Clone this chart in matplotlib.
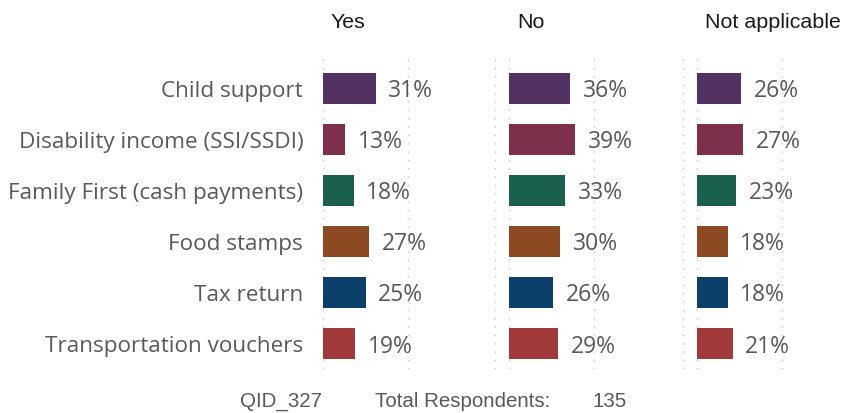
import matplotlib.pyplot as plt

# survey answers, percent of respondents
categories = ['Child support', 'Disability income (SSI/SSDI)', 'Family First (cash payments)',
              'Food stamps', 'Tax return', 'Transportation vouchers']
panels = ['Yes', 'No', 'Not applicable']
yes_pct = [31, 13, 18, 27, 25, 19]
no_pct = [36, 39, 33, 30, 26, 29]
na_pct = [26, 27, 23, 18, 18, 21]
bar_colors = ['#513263', '#7E2F4B', '#1B604D', '#8D4A22', '#0C3F69', '#A0393A']

qid = 'QID_327'
total_respondents = 135

W, H = 857, 414
fig = plt.figure(figsize=(W / 100, H / 100), dpi=100)

label_font = 'Open Sans'
gray = '#595959'
px_per_pct = 1.7
zero_px = [323, 509, 697]       # where 0% sits in each panel
top_px, bottom_px = 57, 370

for i, (name, vals) in enumerate(zip(panels, [yes_pct, no_pct, na_pct])):
    left = zero_px[i] - 15
    width = 170
    ax = fig.add_axes([left / W, 1 - bottom_px / H, width / W, (bottom_px - top_px) / H])
    ax.set_xlim(-15 / px_per_pct, 155 / px_per_pct)
    ax.set_ylim(5.5, -0.63)
    y = range(len(categories))
    ax.barh(y, vals, height=0.61, color=bar_colors, zorder=3)

    # dotted gridlines at 0% and 50%, plus panel edge
    grid_x = [0, 50] if i == 0 else [-15 / px_per_pct + 0.3, 0, 50]
    for gx in grid_x:
        ax.axvline(gx, color='#c4c4c4', linestyle=(0, (1, 5)), linewidth=1, zorder=1)

    for yy, v in zip(y, vals):
        ax.annotate(f'{v}%', (v, yy), xytext=(9, -1.5), textcoords='offset points',
                    va='center', ha='left', fontsize=16.5, color=gray, family=label_font)

    for s in ax.spines.values():
        s.set_visible(False)
    ax.set_xticks([])
    if i == 0:
        ax.set_yticks(list(y))
        ax.set_yticklabels(categories, fontsize=16.2, color=gray, family=label_font)
        ax.tick_params(axis='y', length=0, pad=3.5)
    else:
        ax.set_yticks([])

    fig.text((zero_px[i] + 8) / W, 1 - 23 / H, name, ha='left', va='center',
             fontsize=15.4, color='#1a1a1a', family='Liberation Sans')

fig.text(240 / W, 1 - 402 / H, qid, ha='left', va='center', fontsize=14.8,
         color=gray, family='Liberation Sans')
fig.text(375 / W, 1 - 402 / H, 'Total Respondents:', ha='left', va='center', fontsize=14.8,
         color=gray, family='Liberation Sans')
fig.text(592 / W, 1 - 402 / H, str(total_respondents), ha='left', va='center', fontsize=14.8,
         color=gray, family='Liberation Sans')

fig.savefig('out.png', dpi=100)
